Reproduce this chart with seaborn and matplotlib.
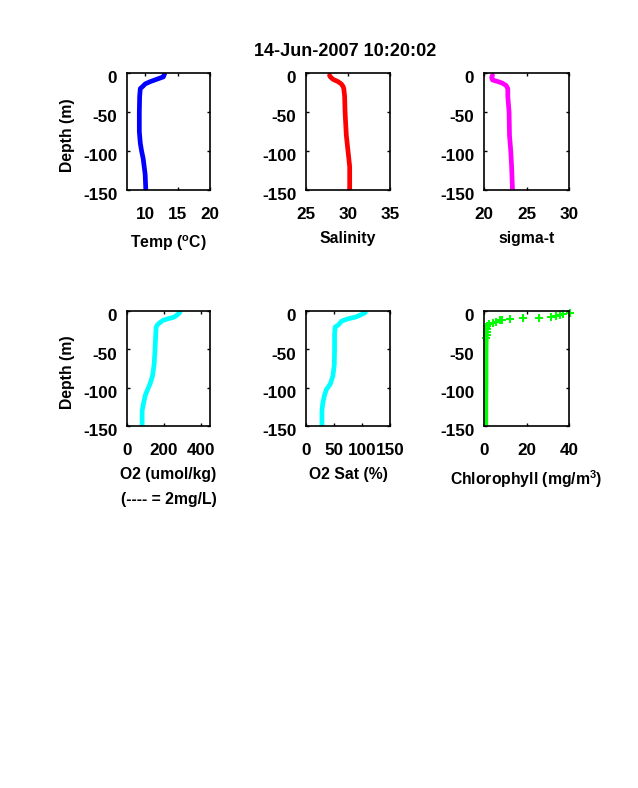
import matplotlib
matplotlib.use('Agg')
import matplotlib.pyplot as plt
from matplotlib.transforms import ScaledTranslation
import seaborn as sns

# Values
temp_depth = [1, 3, 5, 8, 11, 14, 17, 20, 25, 30, 50, 75, 90, 100, 110, 120, 130, 150]
temp = [13.0, 12.9, 12.8, 11.8, 10.8, 10.0, 9.65, 9.25, 9.2, 9.15, 9.1, 9.1, 9.25, 9.45, 9.7, 9.85, 10.0, 10.1]

sal_depth = [3, 5, 8, 11, 14, 17, 20, 30, 50, 60, 80, 100, 110, 120, 150]
sal = [27.8, 27.9, 28.2, 28.8, 29.2, 29.4, 29.5, 29.6, 29.65, 29.7, 29.8, 30.0, 30.1, 30.2, 30.2]

sigma_depth = [3, 6, 9, 11, 13, 16, 20, 30, 50, 80, 100, 120, 135, 150]
sigma = [21.0, 20.9, 21.0, 21.65, 22.15, 22.6, 22.8, 22.8, 22.95, 23.0, 23.15, 23.25, 23.3, 23.35]

o2_depth = [2, 5, 8, 10, 12, 15, 18, 21, 30, 50, 70, 85, 95, 103, 110, 120, 130, 150]
o2 = [287, 272, 255, 224, 197, 179, 165, 158, 156, 152, 147, 138, 125, 111, 99, 90, 82, 82]

sat_depth = [2, 5, 8, 10, 13, 18, 21, 30, 50, 70, 85, 95, 103, 110, 120, 130, 150]
sat = [106, 98, 88, 76, 64, 58, 52, 51, 51, 50.5, 48, 43.5, 36, 33, 30, 28.5, 28.5]

# chlorophyll: separate points near the surface, solid band below
chl_depth = [3, 4.3, 5.2, 7, 8, 8.7, 9.5, 10.4, 11.7, 12, 14, 16, 17, 20, 23, 27, 31, 35]
chl = [40.3, 37, 35.6, 34, 31.4, 25.9, 18.3, 12.4, 8.5, 7.4, 5.8, 4.2, 2.4, 1.4, 1.2, 1.3, 1.2, 1.1]
chl_deep_depth = [20, 35, 60, 90, 120, 150]
chl_deep = [1.2, 1.1, 1.0, 1.0, 0.9, 0.9]

sns.set_theme(style='ticks')
plt.rcParams['font.family'] = ['Liberation Sans', 'DejaVu Sans']
plt.rcParams['font.weight'] = 'bold'
plt.rcParams['mathtext.fontset'] = 'custom'
plt.rcParams['mathtext.rm'] = 'Liberation Sans:bold'
plt.rcParams['axes.unicode_minus'] = False
plt.rcParams['axes.edgecolor'] = 'black'
plt.rcParams['axes.linewidth'] = 1.2
plt.rcParams['axes.labelweight'] = 'bold'

W, H = 638, 788
fig = plt.figure(figsize=(W / 100, H / 100), dpi=100)


def make_axes(x0, x1, y0, y1):
    return fig.add_axes([x0 / W, 1 - y1 / H, (x1 - x0) / W, (y1 - y0) / H])


def finish(ax, xlim, xticks, xlabel, ylabel=False, labelpad=6.5):
    ax.set_xlim(*xlim)
    ax.set_ylim(-150, 0)
    ax.set_xticks(xticks)
    ax.set_yticks([0, -50, -100, -150])
    ax.tick_params(direction='in', length=2.5, width=1, top=True, right=True,
                   labelsize=12.3, colors='black', pad=7)
    ax.tick_params(axis='x', pad=12)
    # tick labels sit a little under their ticks in the original
    shift = ScaledTranslation(0, -3 / 72, fig.dpi_scale_trans)
    for lab in ax.get_yticklabels():
        lab.set_transform(lab.get_transform() + shift)
    ax.set_xlabel(xlabel, fontsize=11.3, color='black', labelpad=labelpad, linespacing=1.85)
    if ylabel:
        ax.set_ylabel('Depth (m)', fontsize=11.3, color='black')
        ax.yaxis.set_label_coords(-52 / 83, 0.47)
    else:
        ax.set_ylabel('')


def profile(ax, x, depth, color, width=3.4):
    sns.lineplot(x=x, y=[-d for d in depth], ax=ax, color=color, linewidth=width,
                 estimator=None, sort=False, solid_capstyle='round', legend=False)


ax1 = make_axes(127, 210, 73, 190)
profile(ax1, temp, temp_depth, '#0000ff')
finish(ax1, (7.2, 20), [10, 15, 20], r'Temp ($\mathregular{^{o}}$C)', ylabel=True, labelpad=8.5)

ax2 = make_axes(306, 390, 73, 190)
profile(ax2, sal, sal_depth, '#ff0000')
finish(ax2, (25, 35), [25, 30, 35], 'Salinity')

ax3 = make_axes(484, 569, 73, 190)
profile(ax3, sigma, sigma_depth, '#ff00ff')
finish(ax3, (20, 30), [20, 25, 30], 'sigma-t')

ax4 = make_axes(127, 210, 311, 426)
profile(ax4, o2, o2_depth, '#00ffff')
finish(ax4, (0, 450), [0, 200, 400], 'O2 (umol/kg)\n(---- = 2mg/L)', ylabel=True)

ax5 = make_axes(306, 390, 311, 426)
profile(ax5, sat, sat_depth, '#00ffff')
finish(ax5, (0, 150), [0, 50, 100, 150], 'O2 Sat (%)')

ax6 = make_axes(484, 569, 311, 426)
profile(ax6, chl_deep, chl_deep_depth, '#00ff00', width=3.2)
sns.scatterplot(x=chl, y=[-d for d in chl_depth], ax=ax6, color='#00ff00', marker='P',
                s=38, linewidth=0, clip_on=False, legend=False)
finish(ax6, (0, 40), [0, 20, 40], r'Chlorophyll (mg/m$\mathregular{^{3}}$)', labelpad=7.5)

fig.text(345 / W, 1 - 52 / H, '14-Jun-2007 10:20:02', ha='center', va='center',
         fontsize=13, fontweight='bold', color='black')

fig.savefig('out.png', dpi=100)
